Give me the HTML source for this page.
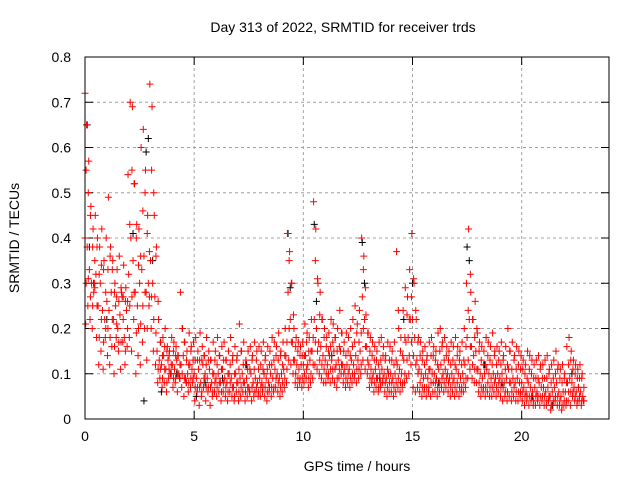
<!DOCTYPE html>
<html><head><meta charset="utf-8"><style>
body{margin:0;background:#fff;}
svg{display:block;font-family:"Liberation Sans",Arial,sans-serif;}
</style></head><body>
<svg id="chart" width="640" height="480" viewBox="0 0 640 480">
<rect width="640" height="480" fill="#fff"/>
<text x="343" y="32" font-size="14" text-anchor="middle">Day 313 of 2022, SRMTID for receiver trds</text>
<text x="357" y="471" font-size="14" text-anchor="middle">GPS time / hours</text>
<text transform="translate(19,238) rotate(-90)" font-size="14" text-anchor="middle">SRMTID / TECUs</text>
<g id="grid"></g><g id="ticks"></g><g id="pts"></g>
<rect x="85" y="57" width="524" height="362" fill="none" stroke="#000" stroke-width="1"/>
</svg>
<script>
const xTicks=[0,5,10,15,20];
const yTicks=[0,0.1,0.2,0.3,0.4,0.5,0.6,0.7,0.8];
const yTickLabels=["0","0.1","0.2","0.3","0.4","0.5","0.6","0.7","0.8"];
const timeStep=0.1;
const seriesHi=[72,65,57,47,42,45,40,38,42,35, 40,49,38,35,30,33,36,28,34,29, 54,70,69,52,43,42,60,64,55,45, 74,69,45,38,22,17,18,20,16,15, 18,17,16,14,28,20,17,15,19,16, 17,18,15,19,16,14,18,15,13,17, 15,18,14,16,17,13,15,18,14,16, 14,21,15,17,13,15,16,14,17,15, 16,15,17,14,16,15,18,17,16,19, 15,17,20,41,37,30,20,18,17,16, 17,21,19,18,22,48,42,30,28,22, 20,18,19,22,21,18,20,24,19,17, 19,18,20,22,25,21,24,40,36,23, 19,18,17,16,15,17,18,16,14,17, 16,15,17,37,20,18,24,29,27,33, 41,30,22,18,17,15,16,14,17,18, 16,15,19,20,17,18,16,15,17,16, 18,16,15,17,20,30,42,28,22,26, 19,17,16,15,18,17,16,19,15,16, 15,17,14,16,20,15,17,14,16,15, 14,13,12,15,14,13,12,13,14,12, 12,13,14,11,12,13,15,12,11,12, 10,16,18,15,13,12,11,12,10];
const seriesQ3=[55,50,45,38,35,38,32,34,33,28, 33,36,33,28,27,26,29,27,26,26, 43,55,52,40,34,36,46,50,41,37, 55,50,36,26,17,14,16,15,14,12, 15,14,14,12,20,17,13,12,15,13, 13,13,13,13,14,12,13,13,10,13, 12,14,11,13,13,10,12,13,10,13, 11,15,12,12,11,11,13,11,13,11, 12,11,13,11,12,12,13,14,13,14, 12,14,17,35,30,23,16,15,14,14, 14,17,15,15,18,35,31,23,22,18, 16,15,16,17,18,15,16,19,15,14, 15,14,16,17,19,17,19,33,29,19, 15,14,13,13,12,13,14,13,11,13, 13,12,13,24,15,14,18,23,22,27, 31,24,17,14,13,12,13,11,14,14, 13,12,15,16,13,14,13,12,13,12, 14,13,12,13,16,24,32,22,18,20, 15,13,12,12,14,13,12,14,12,13, 12,13,11,12,15,11,13,11,12,11, 11,10,9,11,10,9,9,9,11,9, 9,9,10,8,9,10,11,9,8,9, 8,12,13,11,10,9,9,9,7];
const seriesMid=[40,38,33,30,28,32,25,30,24,22, 26,24,28,22,25,20,23,27,18,24, 32,40,35,28,25,30,33,36,28,30, 35,30,27,15,13,12,14,11,13,10, 12,11,13,10,12,14,9,10,12,11, 10,9,11,8,12,10,9,11,8,10, 9,10,8,11,9,8,10,9,7,10, 8,9,10,8,9,7,10,8,9,8, 9,8,10,9,8,10,9,11,10,9, 10,11,14,28,22,17,13,12,11,12, 12,14,12,13,15,22,20,17,16,14, 13,12,14,13,15,12,13,15,12,11, 12,11,13,12,14,13,15,27,22,16, 12,11,10,11,9,10,11,10,9,10, 10,9,10,12,11,10,13,17,18,22, 22,18,13,11,10,9,10,9,11,10, 10,9,11,12,10,11,10,9,10,9, 11,10,9,10,12,18,22,16,14,15, 11,10,9,10,11,10,9,10,9,10, 9,10,8,9,11,8,9,8,9,8, 8,7,6,8,7,6,7,6,8,7, 7,6,7,5,6,7,8,6,5,6, 6,8,9,8,7,6,7,6,5];
const seriesQ1=[30,31,27,25,29,25,18,22,17,20, 20,18,22,16,21,17,17,22,15,20, 25,27,28,19,20,21,25,28,20,27, 27,22,19,11,11,9,11,8,11,10, 9,9,10,9,10,9,8,8,9,9, 7,7,7,6,9,7,7,7,6,8, 7,8,6,8,7,6,8,7,5,8, 6,7,8,6,7,6,7,6,7,6, 7,7,7,6,7,7,7,9,8,7, 8,9,11,20,17,13,10,9,9,9, 10,11,9,10,12,17,15,13,12,11, 10,10,11,11,11,9,11,12,10,9, 10,9,10,10,11,11,12,20,16,13, 9,9,8,9,7,8,9,8,7,8, 8,7,8,9,8,8,10,13,14,17, 14,12,10,8,7,7,7,7,8,8, 8,7,8,9,8,9,8,7,8,7, 8,7,7,8,9,13,16,12,11,11, 8,7,7,7,8,7,7,8,7,8, 7,7,6,6,8,6,7,6,6,6, 6,5,5,5,5,4,5,5,5,5, 5,4,5,3,4,5,5,4,3,4, 4,6,6,6,5,4,5,4,4];
const seriesLo=[21,25,22,20,30,18,12,15,11,18, 14,12,16,10,18,15,11,17,12,16, 18,15,22,10,14,12,17,20,13,25, 20,15,12,8,9,7,8,6,9,10, 7,8,6,9,7,5,8,6,7,8, 4,6,3,5,7,4,6,3,5,6, 5,6,4,6,5,4,6,5,4,6, 4,5,6,4,5,6,4,5,6,5, 5,6,5,4,6,5,6,7,6,5, 6,7,8,13,12,10,8,7,8,7, 8,9,7,8,9,12,11,10,9,8, 8,9,8,9,8,7,9,10,8,7, 8,7,8,9,8,9,10,13,11,10, 7,8,6,7,6,7,8,6,5,6, 6,5,6,7,6,7,8,9,10,12, 7,6,7,6,5,6,5,6,5,6, 6,5,6,7,6,7,6,5,6,5, 6,5,6,6,7,9,11,9,8,8, 6,5,6,5,6,5,5,6,5,6, 5,4,5,4,5,4,5,4,4,5, 4,3,4,3,4,3,3,4,3,4, 3,3,4,2,3,4,3,3,2,3, 3,4,3,5,4,3,4,3,4];
const blackTimes=[0.1,0.2,0.4,1.0,2.2,2.7,2.8,2.9,3.1,3.5,4.2,5.1,5.5,6.3,7.4,8.2,9.3,9.4,10.5,10.6,11.3,12.7,12.8,13.5,14.6,15.0,16.2,17.5,17.6,18.3,19.1,20.5,21.4,22.3,22.6];
const blackVals=[0.65,0.38,0.30,0.22,0.41,0.04,0.59,0.62,0.35,0.06,0.10,0.05,0.08,0.09,0.12,0.10,0.41,0.29,0.43,0.26,0.14,0.39,0.30,0.09,0.22,0.30,0.08,0.38,0.35,0.12,0.08,0.05,0.03,0.10,0.07];
const NS="http://www.w3.org/2000/svg";
const X0=85,X1=609,Y0=419,Y1=57,XMAX=24,YMAX=0.8;
function sx(v){return X0+v/XMAX*(X1-X0);}
function sy(v){return Y0-v/YMAX*(Y0-Y1);}
function mk(tag,attrs,parent){const e=document.createElementNS(NS,tag);for(const k in attrs)e.setAttribute(k,attrs[k]);parent.appendChild(e);return e;}
const grid=document.getElementById('grid'),ticks=document.getElementById('ticks'),pts=document.getElementById('pts');
yTicks.forEach((v,i)=>{
  const y=sy(v);
  if(i>0&&i<yTicks.length-1){const g=mk('line',{x1:X0,x2:X1,y1:y,y2:y,stroke:'#a0a0a0','stroke-dasharray':'3,3'},grid);
  
  }
  mk('line',{x1:X0,x2:X0+8,y1:y,y2:y,stroke:'#000'},ticks);
  mk('line',{x1:X1,x2:X1-8,y1:y,y2:y,stroke:'#000'},ticks);
  const t=mk('text',{x:X0-14,y:y+5,'font-size':14,'text-anchor':'end'},ticks);t.textContent=yTickLabels[i];
  
  
});
xTicks.forEach(v=>{
  const x=sx(v);
  if(v>0){const g=mk('line',{x1:x,x2:x,y1:Y0,y2:Y1,stroke:'#a0a0a0','stroke-dasharray':'3,3'},grid);
  
  }
  mk('line',{x1:x,x2:x,y1:Y0,y2:Y0-8,stroke:'#000'},ticks);
  mk('line',{x1:x,x2:x,y1:Y1,y2:Y1+8,stroke:'#000'},ticks);
  const t=mk('text',{x:x,y:Y0+22,'font-size':14,'text-anchor':'middle'},ticks);t.textContent=String(v);
  
  
});
function plus(t,v,color,name){
  const x=sx(t),y=sy(v);
  const p=mk('path',{d:`M${x-3.5},${y}h7M${x},${y-3.5}v7`,stroke:color,'stroke-width':1,fill:'none'},pts);
  
  
}
blackTimes.forEach((t,i)=>plus(t,blackVals[i],'#000','black-point'));
const allSeries=[seriesHi,seriesQ3,seriesMid,seriesQ1,seriesLo];
const timeShift=[-0.03,0.05,0,0.05,0.03];
allSeries.forEach((arr,k)=>arr.forEach((v,i)=>plus(Math.max(0,i*timeStep+timeShift[k]),v/100,'#ff0000','red-point')));
</script>
</body></html>
